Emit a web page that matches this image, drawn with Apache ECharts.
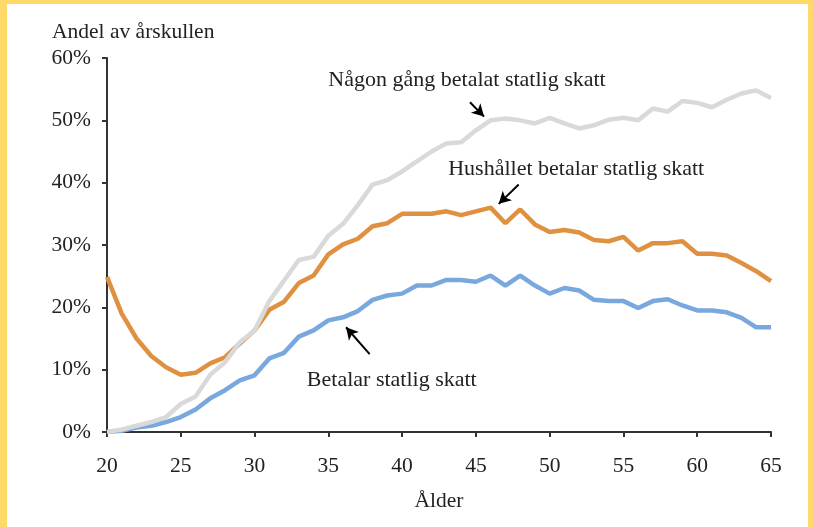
<!DOCTYPE html>
<html>
<head>
<meta charset="utf-8">
<script src="https://cdn.jsdelivr.net/npm/echarts@6/dist/echarts.min.js"></script>
<style>
html,body{margin:0;padding:0;background:#fff;}
#c{width:813px;height:527px;}
</style>
</head>
<body>
<div id="c"></div>
<script>
// Ages 20..65
const ages = [20,21,22,23,24,25,26,27,28,29,30,31,32,33,34,35,36,37,38,39,40,41,42,43,44,45,46,47,48,49,50,51,52,53,54,55,56,57,58,59,60,61,62,63,64,65];
// "Någon gång betalat statlig skatt" (%)
const nagonGang = [0,0.4,1.0,1.6,2.4,4.5,5.7,9.2,11.2,14.4,16.3,21.0,24.3,27.6,28.1,31.5,33.4,36.4,39.7,40.4,41.8,43.4,45.0,46.3,46.5,48.4,50.0,50.3,50.0,49.5,50.4,49.5,48.7,49.2,50.1,50.4,50.0,51.9,51.4,53.1,52.8,52.1,53.3,54.3,54.8,53.6];
// "Hushållet betalar statlig skatt" (%)
const hushallet = [24.9,19.0,15.0,12.2,10.4,9.2,9.5,11.0,12.0,14.2,16.3,19.6,20.9,23.9,25.1,28.5,30.1,31.0,33.0,33.5,35.0,35.0,35.0,35.4,34.8,35.4,36.0,33.5,35.7,33.3,32.1,32.4,32.0,30.8,30.6,31.3,29.1,30.3,30.3,30.6,28.6,28.6,28.3,27.1,25.8,24.2];
// "Betalar statlig skatt" (%)
const betalar = [0,0.2,0.7,1.0,1.6,2.4,3.6,5.4,6.7,8.3,9.1,11.8,12.7,15.3,16.3,17.9,18.4,19.4,21.2,21.9,22.2,23.5,23.5,24.4,24.4,24.1,25.1,23.5,25.1,23.5,22.2,23.1,22.7,21.2,21.0,21.0,19.9,21.0,21.3,20.3,19.5,19.5,19.2,18.3,16.8,16.8];
const seriesNames = ["Betalar statlig skatt","Hushållet betalar statlig skatt","Någon gång betalat statlig skatt"];
const xTicks = [20,25,30,35,40,45,50,55,60,65];
const yTicks = [0,10,20,30,40,50,60];

const FONT = "Liberation Serif";
const TXT = "#222";

function pairs(vals){ return ages.map((a,i)=>[a, vals[i]]); }

// annotation anchors in data coordinates [age, %]
const labelAnchors = [
  {name: seriesNames[2], coord:[44.4, 56.4]},
  {name: seriesNames[1], coord:[51.8, 42.1]},
  {name: seriesNames[0], coord:[39.3, 8.3]}
];
const arrowAnchors = [
  [[44.6, 52.9],[45.55, 50.6]],
  [[47.9, 39.7],[46.55, 36.6]],
  [[37.8, 12.5],[36.2, 16.8]]
];

const chart = echarts.init(document.getElementById('c'), null, {renderer:'canvas'});
chart.setOption({
  animation:false,
  backgroundColor:'#fff',
  title:{
    text:'Andel av årskullen', left:47, top:16,
    textStyle:{fontFamily:FONT, fontSize:21.5, fontWeight:'normal', color:TXT}
  },
  grid:{left:107, right:42, top:58, bottom:95, containLabel:false},
  xAxis:{
    type:'value', min:20, max:65, interval:5,
    name:'Ålder', nameLocation:'middle', nameGap:58,
    nameTextStyle:{fontFamily:FONT, fontSize:21.5, color:TXT},
    axisLine:{show:true, onZero:false, lineStyle:{color:'#333', width:2}},
    axisTick:{show:true, length:5, lineStyle:{color:'#333', width:2}},
    axisLabel:{fontFamily:FONT, fontSize:21.5, color:TXT, margin:23,
      customValues: xTicks},
    splitLine:{show:false}
  },
  yAxis:{
    type:'value', min:0, max:60, interval:10,
    axisLine:{show:true, lineStyle:{color:'#333', width:2}},
    axisTick:{show:true, length:5, lineStyle:{color:'#333', width:2}},
    axisLabel:{fontFamily:FONT, fontSize:21.5, color:TXT, margin:16,
      formatter: v => yTicks.includes(v) ? v + '%' : ''},
    splitLine:{show:false}
  },
  series:[
    {name:seriesNames[0], type:'line', data:pairs(betalar), symbol:'none',
     lineStyle:{color:'#78A8DD', width:4.5}, itemStyle:{color:'#78A8DD'}},
    {name:seriesNames[1], type:'line', data:pairs(hushallet), symbol:'none',
     lineStyle:{color:'#E09041', width:4.5}, itemStyle:{color:'#E09041'}},
    {name:seriesNames[2], type:'line', data:pairs(nagonGang), symbol:'none',
     lineStyle:{color:'#D9D9D9', width:4.5}, itemStyle:{color:'#D9D9D9'},
     markLine:{
       silent:true, animation:false,
       symbol:['none','arrow'], symbolSize:[10,12],
       lineStyle:{color:'#000', width:2, type:'solid'},
       label:{show:false},
       data: arrowAnchors.map(a => [{coord:a[0]},{coord:a[1]}])
     },
     markPoint:{
       silent:true, animation:false,
       symbol:'circle', symbolSize:1,
       itemStyle:{color:'rgba(0,0,0,0)'},
       label:{show:true, position:'inside', fontFamily:FONT, fontSize:22, color:TXT,
         formatter: p => p.name},
       data: labelAnchors.map(l => ({name:l.name, coord:l.coord}))
     }
    }
  ],
  graphic:[
    {type:'rect', left:0, top:0, shape:{width:813, height:4}, style:{fill:'#FFDA6A'}},
    {type:'rect', left:0, top:0, shape:{width:7, height:527}, style:{fill:'#FFDA6A'}},
    {type:'rect', right:0, top:0, shape:{width:5, height:527}, style:{fill:'#FFDA6A'}}
  ]
});
</script>
</body>
</html>
